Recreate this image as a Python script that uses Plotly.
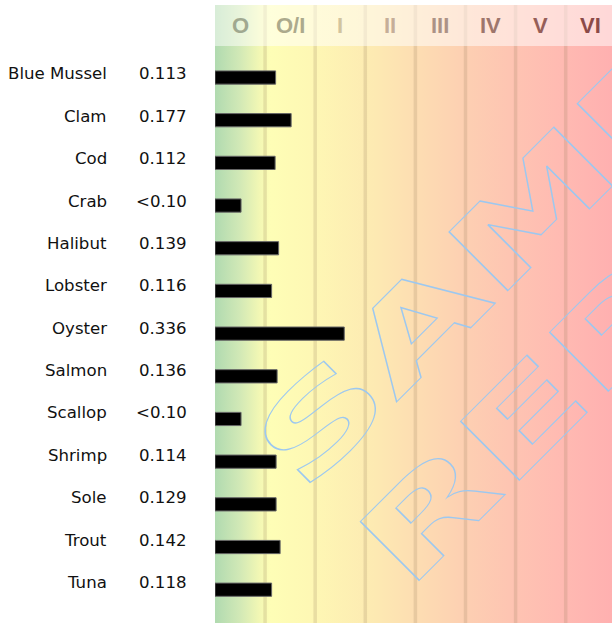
import plotly.graph_objects as go

species = ["Blue Mussel", "Clam", "Cod", "Crab", "Halibut", "Lobster", "Oyster",
           "Salmon", "Scallop", "Shrimp", "Sole", "Trout", "Tuna"]
value_labels = ["0.113", "0.177", "0.112", "<0.10", "0.139", "0.116", "0.336",
                "0.136", "<0.10", "0.114", "0.129", "0.142", "0.118"]
# bar length read on the class scale (1 unit = one class column)
class_position = [1.21, 1.52, 1.20, 0.52, 1.27, 1.13, 2.58, 1.24, 0.52, 1.22, 1.22, 1.30, 1.13]

classes = ["O", "O/I", "I", "II", "III", "IV", "V", "VI"]
class_text_colors = ["rgb(160,168,144)", "rgb(172,170,140)", "rgb(210,196,158)", "rgb(198,174,152)",
                     "rgb(172,146,134)", "rgb(158,118,108)", "rgb(150,94,88)", "rgb(140,74,72)"]

# background gradient, left (green) to right (red)
gradient = [[0.0, "rgb(176,218,176)"], [0.06, "rgb(208,232,182)"], [0.115, "rgb(244,248,180)"],
            [0.14, "rgb(254,254,182)"], [0.25, "rgb(254,247,180)"], [0.4, "rgb(253,234,178)"],
            [0.5, "rgb(253,222,178)"], [0.625, "rgb(253,208,178)"], [0.75, "rgb(254,196,178)"],
            [0.875, "rgb(255,186,178)"], [1.0, "rgb(255,176,176)"]]

W, H = 612, 623
top = 5
plot_left = 215
col_w = 50.1
x_max = (W - plot_left) / col_w
header_bottom = 46
rows = list(range(len(species)))


def py_to_paper(py):
    return 1 - (py - top) / (H - top)


fig = go.Figure()

# gradient background
fig.add_trace(go.Scatter(x=[0, x_max, x_max, 0, 0], y=[-3, -3, 15, 15, -3], mode='lines',
                         line=dict(width=0), fill='toself',
                         fillgradient=dict(type='horizontal', colorscale=gradient),
                         hoverinfo='skip', showlegend=False))

# class separators
sep_x, sep_y = [], []
for i in range(1, len(classes)):
    sep_x += [i, i, None]
    sep_y += [-3, 15, None]
fig.add_trace(go.Scatter(x=sep_x, y=sep_y, mode='lines',
                         line=dict(color='rgba(150,125,90,0.2)', width=3.5),
                         hoverinfo='skip', showlegend=False))

# bars on an overlaid axis pair so they sit above the background
fig.add_trace(go.Bar(x=class_position, y=rows, orientation='h', width=0.31,
                     marker=dict(color='black', line=dict(color='#666', width=1)),
                     xaxis='x2', yaxis='y2', showlegend=False))

fig.update_layout(
    width=W, height=H,
    margin=dict(l=0, r=0, t=top, b=0),
    paper_bgcolor='white', plot_bgcolor='white',
    xaxis=dict(domain=[plot_left / W, 1], range=[0, x_max], visible=False),
    yaxis=dict(range=[12.956, -1.628], visible=False),
    xaxis2=dict(overlaying='x', range=[0, x_max], visible=False),
    yaxis2=dict(overlaying='y', range=[12.78, -1.699], visible=False),
    showlegend=False,
)

# header band (lighter)
fig.add_shape(type='rect', xref='paper', yref='paper', x0=plot_left / W, x1=1,
              y0=py_to_paper(header_bottom), y1=1, fillcolor='white', opacity=0.5,
              line=dict(width=0), layer='above')

for i, (c, col) in enumerate(zip(classes, class_text_colors)):
    fig.add_annotation(x=i + 0.5, xref='x', y=py_to_paper((top + header_bottom) / 2), yref='paper',
                       text=c, showarrow=False, xanchor='center', yanchor='middle',
                       font=dict(family='Liberation Sans', size=22, color=col, weight='bold'))

for i, (name, val) in enumerate(zip(species, value_labels)):
    fig.add_annotation(x=109 / W, xref='paper', y=i, yref='y', text=name, showarrow=False,
                       xanchor='right', yanchor='middle',
                       font=dict(family='DejaVu Sans', size=16.6, color='#111'))
    fig.add_annotation(x=189 / W, xref='paper', y=i, yref='y', text=val, showarrow=False,
                       xanchor='right', yanchor='middle',
                       font=dict(family='DejaVu Sans', size=16.6, color='#111'))

# watermark, centre point in pixels
for word, (px, py) in [("SAMPLE", (568, 174)), ("REPORT", (669, 274))]:
    fig.add_annotation(x=px / W, xref='paper', y=py_to_paper(py), yref='paper', text=word,
                       showarrow=False, textangle=-45, xanchor='center', yanchor='middle',
                       font=dict(family='DejaVu Sans', size=114, color='rgba(0,0,0,0)', weight='bold'))

# outline + stretch the watermark words, drop the page margin
outline_js = """
document.body.style.margin = '0';
var gd = document.getElementById('{plot_id}');
var lengths = {SAMPLE: 829, REPORT: 819};
gd.querySelectorAll('.annotation-text').forEach(function(t) {
  var L = lengths[t.textContent];
  if (L) {
    t.setAttribute('textLength', L);
    t.setAttribute('lengthAdjust', 'spacingAndGlyphs');
    t.style.stroke = '#9cc8f0';
    t.style.strokeWidth = '1px';
  }
});
"""

fig.write_html("out.html", post_script=outline_js, config={'displayModeBar': False})
